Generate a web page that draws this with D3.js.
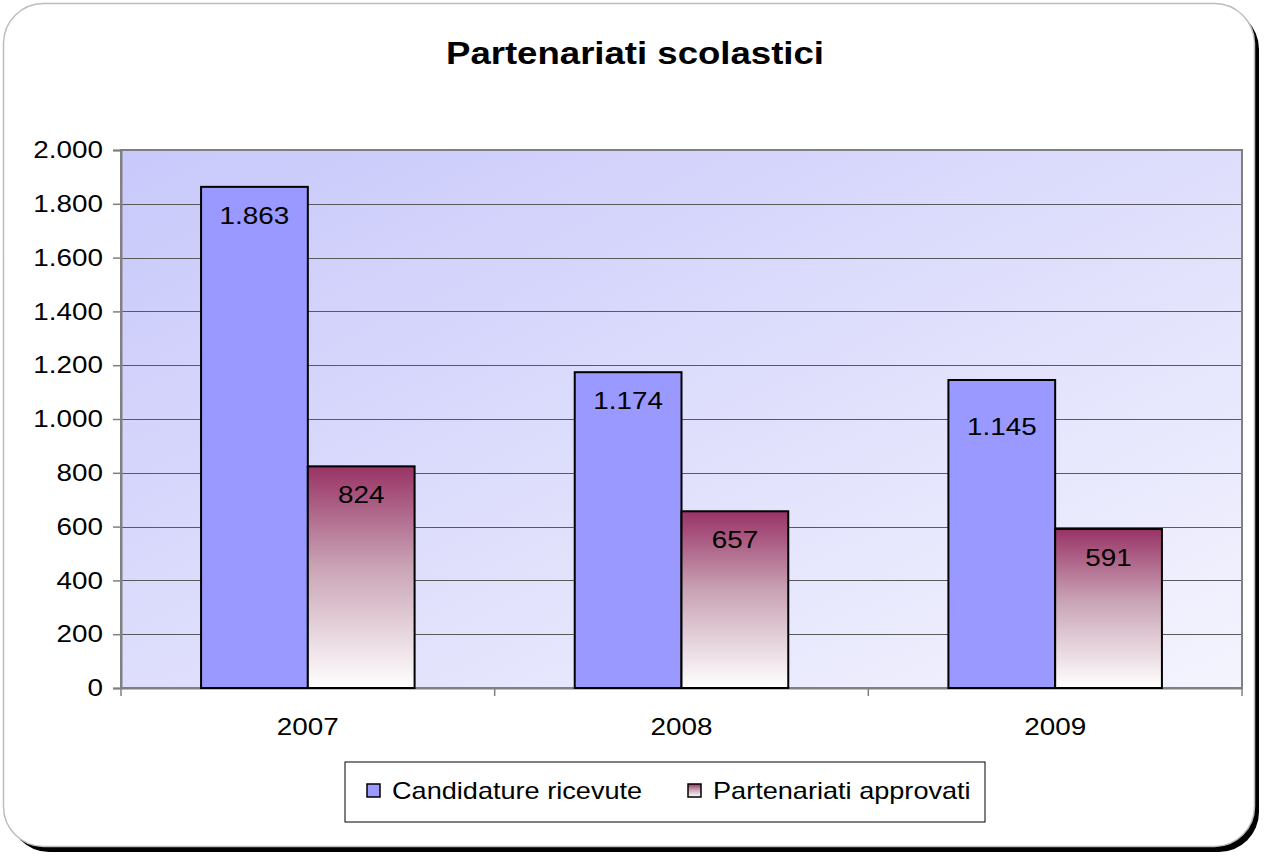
<!DOCTYPE html>
<html>
<head>
<meta charset="utf-8">
<script src="https://cdn.jsdelivr.net/npm/d3@7"></script>
<style>
  body { margin: 0; background: #fff; }
  svg { font-family: "Liberation Sans", Arial, sans-serif; }
</style>
</head>
<body>
<script>
var years = ["2007", "2008", "2009"];
var seriesNames = ["Candidature ricevute", "Partenariati approvati"];
var candidature = [1863, 1174, 1145];
var approvati = [824, 657, 591];
var yTicks = [0, 200, 400, 600, 800, 1000, 1200, 1400, 1600, 1800, 2000];

var W = 1267, H = 859;
var margin = {top: 150, right: 25, bottom: 171, left: 121},
    width = 1242 - margin.left,
    height = 688 - margin.top;

// the reference text is drawn a bit wider than the font
function stretch(s) {
  return function(sel) {
    sel.each(function() {
      var t = d3.select(this);
      var x = +t.attr("x") || 0, y = +t.attr("y") || 0;
      t.attr("x", 0).attr("y", 0)
       .attr("transform", "translate(" + x + "," + y + ") scale(" + s + ",1)");
    });
  };
}

var svg = d3.select("body").append("svg")
            .attr("width", W)
            .attr("height", H);

var defs = svg.append("defs");

var bgGrad = defs.append("linearGradient")
                 .attr("id", "bg-grad")
                 .attr("x1", "0").attr("y1", "0")
                 .attr("x2", "1").attr("y2", "1");
bgGrad.append("stop").attr("offset", "0%").attr("stop-color", "#c8c8fb");
bgGrad.append("stop").attr("offset", "100%").attr("stop-color", "#f4f4fe");

var barGrad = defs.append("linearGradient")
                  .attr("id", "bar-grad")
                  .attr("x1", "0").attr("y1", "0")
                  .attr("x2", "0").attr("y2", "1");
barGrad.append("stop").attr("offset", "0%").attr("stop-color", "#993366");
barGrad.append("stop").attr("offset", "45%").attr("stop-color", "#c9a3b5");
barGrad.append("stop").attr("offset", "100%").attr("stop-color", "#ffffff");

// outer frame with shadow
svg.append("rect")
   .attr("x", 9).attr("y", 9)
   .attr("width", 1250).attr("height", 843)
   .attr("rx", 40).attr("ry", 40)
   .attr("fill", "#000");
svg.append("rect")
   .attr("x", 3.5).attr("y", 3.5)
   .attr("width", 1251).attr("height", 843)
   .attr("rx", 40).attr("ry", 40)
   .attr("fill", "#fff")
   .attr("stroke", "#bdbdbd")
   .attr("stroke-width", 1.5);

svg.append("text")
   .attr("x", 635)
   .attr("y", 64)
   .attr("text-anchor", "middle")
   .style("font-size", "31px")
   .style("font-weight", "bold")
   .text("Partenariati scolastici")
   .call(stretch(1.18));

var g = svg.append("g")
           .attr("transform", "translate(" + margin.left + "," + margin.top + ")");

var x0 = d3.scaleBand().domain(years).range([0, width]);
var x1 = d3.scaleBand().domain(seriesNames)
           .range([0, x0.bandwidth()]).paddingInner(0).paddingOuter(0.75);
var y = d3.scaleLinear().domain([0, 2000]).range([height, 0]);

g.append("rect")
 .attr("width", width).attr("height", height)
 .attr("fill", "url(#bg-grad)");

// gridlines
g.selectAll(".grid")
 .data(yTicks.slice(1))
 .enter().append("line")
 .attr("x1", 0).attr("x2", width)
 .attr("y1", function(d) { return Math.round(y(d)) + 0.5; })
 .attr("y2", function(d) { return Math.round(y(d)) + 0.5; })
 .attr("stroke", "#5a5a5a")
 .attr("stroke-width", 1);

g.append("rect")
 .attr("width", width).attr("height", height)
 .attr("fill", "none")
 .attr("stroke", "#808080")
 .attr("stroke-width", 2);

var fmt = function(d) { return d3.format(",")(d).replace(/,/g, "."); };

var yAxis = g.append("g")
             .call(d3.axisLeft(y).tickValues(yTicks).tickSize(8).tickPadding(10).tickFormat(fmt));
yAxis.select(".domain").attr("stroke", "#808080").attr("stroke-width", 2);
yAxis.selectAll(".tick line").attr("stroke", "#808080").attr("stroke-width", 1.5);
yAxis.selectAll("text").style("font-size", "24px").attr("fill", "#000")
     .style("font-family", "'Liberation Sans', Arial, sans-serif")
     .call(stretch(1.16));

var xAxis = g.append("g")
             .attr("transform", "translate(0," + height + ")")
             .call(d3.axisBottom(x0).tickSize(0).tickPadding(30));
xAxis.select(".domain").attr("stroke", "#808080").attr("stroke-width", 2);
xAxis.selectAll("text").style("font-size", "24px").attr("fill", "#000")
     .style("font-family", "'Liberation Sans', Arial, sans-serif")
     .call(stretch(1.16));
// boundary ticks between categories
xAxis.selectAll(".bnd")
     .data([0, 1, 2, 3])
     .enter().append("line")
     .attr("x1", function(i) { return i * x0.bandwidth(); })
     .attr("x2", function(i) { return i * x0.bandwidth(); })
     .attr("y1", 0).attr("y2", 8)
     .attr("stroke", "#808080").attr("stroke-width", 1.5);

var rows = years.map(function(yr, i) {
  return [
    {year: yr, series: seriesNames[0], value: candidature[i], fill: "#9999ff"},
    {year: yr, series: seriesNames[1], value: approvati[i], fill: "url(#bar-grad)"}
  ];
});

var groups = g.selectAll(".grp")
              .data(rows)
              .enter().append("g")
              .attr("transform", function(d) { return "translate(" + x0(d[0].year) + ",0)"; });

groups.selectAll("rect")
      .data(function(d) { return d; })
      .enter().append("rect")
      .attr("x", function(d) { return x1(d.series); })
      .attr("y", function(d) { return y(d.value); })
      .attr("width", x1.bandwidth())
      .attr("height", function(d) { return height - y(d.value); })
      .attr("fill", function(d) { return d.fill; })
      .attr("stroke", "#000")
      .attr("stroke-width", 2);

groups.selectAll(".lbl")
      .data(function(d) { return d; })
      .enter().append("text")
      .attr("x", function(d) { return x1(d.series) + x1.bandwidth() / 2; })
      .attr("y", function(d) {
        // the 1.145 label sits lower in the original
        return y(d.value) + (d.value === 1145 ? 55 : 37);
      })
      .attr("text-anchor", "middle")
      .style("font-size", "24px")
      .text(function(d) { return fmt(d.value); })
      .call(stretch(1.16));

// legend
var legend = svg.append("g").attr("transform", "translate(345,762)");
legend.append("rect")
      .attr("width", 640).attr("height", 60)
      .attr("fill", "#fff")
      .attr("stroke", "#000")
      .attr("stroke-width", 1);

var legendX = [22, 343];
var items = legend.selectAll(".item")
                  .data(seriesNames)
                  .enter().append("g")
                  .attr("transform", function(d, i) { return "translate(" + legendX[i] + ",22)"; });
items.append("rect")
     .attr("width", 13).attr("height", 13)
     .attr("fill", function(d, i) { return i === 0 ? "#9999ff" : "url(#bar-grad)"; })
     .attr("stroke", "#000")
     .attr("stroke-width", 1.5);
items.append("text")
     .attr("x", 25)
     .attr("y", 15)
     .style("font-size", "24px")
     .text(function(d) { return d; })
     .call(stretch(1.13));
</script>
</body>
</html>
